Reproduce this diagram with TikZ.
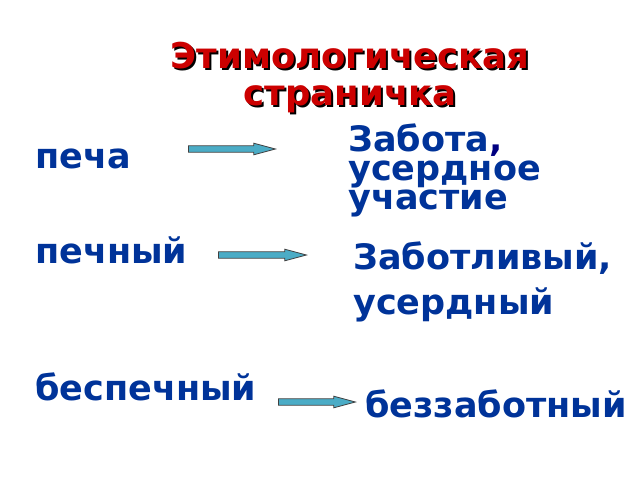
\documentclass[tikz,border=0pt]{standalone}
\usepackage{fontspec}
\setmainfont{DejaVu Sans}
\usetikzlibrary{shapes.arrows}
\definecolor{txtblue}{RGB}{0,51,153}
\definecolor{navy}{RGB}{0,0,128}
\definecolor{ttlred}{RGB}{204,0,0}
\definecolor{arrfill}{RGB}{75,172,198}
\definecolor{arrline}{RGB}{64,64,64}
\tikzset{
  word/.style={inner sep=0pt, text=txtblue, font=\bfseries\fontsize{35}{38}\selectfont, anchor=base west},
  wordblock/.style={inner sep=0pt, text=txtblue, align=left, anchor=north west},
  ttl/.style={inner sep=0pt, align=center, anchor=north, font=\bfseries\fontsize{35.5}{37}\selectfont},
  blockarrow/.style={single arrow, draw=arrline, line width=0.8pt, fill=arrfill,
    inner sep=2.8pt, single arrow head extend=2.6pt, single arrow tip angle=30,
    minimum height=#1, anchor=west},
}
\begin{document}
\begin{tikzpicture}[x=1pt,y=-1pt]
\useasboundingbox (0,0) rectangle (640,480);
% title with shadow
\node[ttl, text=black] (ttlshadow) at (352,43.5) {Этимологическая\\страничка};
\node[ttl, text=ttlred] (ttl) at (350,41.5) {Этимологическая\\страничка};
% left words
\node[word] (w1) at (35,168) {печа};
\node[word] (w2) at (35,263) {печный};
\node[word] (w3) at (35,400) {беспечный};
% right words
\node[wordblock, font=\bfseries\fontsize{35}{29}\selectfont] (r1) at (348,124) {Забота\textcolor{navy}{,}\\усердное\\участие};
\node[wordblock, font=\bfseries\fontsize{35}{45}\selectfont] (r2) at (353,242) {Заботливый,\\усердный};
\node[word] (r3) at (365,417) {беззаботный};
% arrows
\node[blockarrow=87] (a1) at (188,149) {};
\node[blockarrow=88] (a2) at (218,255) {};
\node[blockarrow=77] (a3) at (278,402) {};
\end{tikzpicture}
\end{document}
